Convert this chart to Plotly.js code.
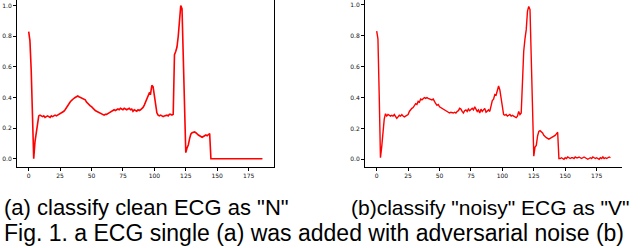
<!DOCTYPE html>
<html>
<head>
<meta charset="utf-8">
<script src="https://cdn.plot.ly/plotly-3.0.1.min.js"></script>
<style>html,body{margin:0;padding:0;background:#fff}#chart{width:640px;height:248px}</style>
</head>
<body>
<div id="chart"></div>
<script>
// Clean ECG beat (a), classified as "N"
const cleanECG = [
0.83,0.77,0.58,0.25,0.00,0.11,0.18,0.24,0.28,0.285,
0.28,0.275,0.28,0.27,0.275,0.28,0.275,0.27,0.28,0.275,
0.28,0.285,0.28,0.285,0.29,0.29,0.295,0.30,0.31,0.32,
0.335,0.345,0.355,0.37,0.38,0.39,0.395,0.40,0.405,0.41,
0.405,0.40,0.395,0.39,0.39,0.385,0.37,0.36,0.35,0.345,
0.34,0.33,0.32,0.315,0.31,0.305,0.30,0.295,0.29,0.29,
0.285,0.29,0.29,0.295,0.30,0.305,0.31,0.315,0.32,0.315,
0.32,0.325,0.32,0.33,0.325,0.32,0.33,0.325,0.32,0.325,
0.33,0.32,0.325,0.31,0.32,0.315,0.31,0.32,0.315,0.32,
0.325,0.335,0.35,0.37,0.385,0.40,0.43,0.425,0.48,0.47,
0.41,0.34,0.30,0.285,0.28,0.285,0.28,0.275,0.28,0.285,
0.285,0.28,0.29,0.29,0.285,0.29,0.68,0.70,0.73,0.80,
0.90,1.00,0.98,0.72,0.42,0.04,0.07,0.09,0.13,0.16,
0.17,0.175,0.175,0.17,0.16,0.155,0.15,0.145,0.14,0.145,
0.15,0.155,0.15,0.16,0.165,0,0,0,0,0,
0,0,0,0,0,0,0,0,0,0,
0,0,0,0,0,0,0,0,0,0,
0,0,0,0,0,0,0,0,0,0,
0,0,0,0,0,0,0
];
// Same beat with adversarial noise (b), classified as "V"
const noisyECG = [
0.83,0.78,0.42,0.01,0.08,0.17,0.26,0.295,0.28,0.29,
0.285,0.28,0.285,0.28,0.29,0.28,0.265,0.275,0.285,0.28,
0.29,0.28,0.275,0.28,0.285,0.29,0.31,0.325,0.33,0.335,
0.35,0.36,0.355,0.375,0.37,0.39,0.385,0.395,0.40,0.395,
0.40,0.395,0.39,0.39,0.385,0.39,0.37,0.36,0.35,0.355,
0.34,0.335,0.33,0.325,0.32,0.31,0.305,0.30,0.30,0.305,
0.30,0.30,0.305,0.30,0.31,0.315,0.33,0.325,0.31,0.30,
0.315,0.32,0.31,0.325,0.315,0.32,0.33,0.32,0.34,0.325,
0.31,0.32,0.30,0.325,0.31,0.32,0.33,0.305,0.31,0.32,
0.31,0.35,0.38,0.39,0.42,0.415,0.45,0.475,0.45,0.40,
0.34,0.29,0.285,0.29,0.28,0.285,0.29,0.28,0.285,0.28,
0.275,0.27,0.28,0.31,0.29,0.30,0.50,0.70,0.78,0.84,
0.96,0.99,0.97,0.60,0.20,0.02,0.08,0.09,0.15,0.18,
0.185,0.18,0.17,0.155,0.145,0.14,0.135,0.13,0.135,0.14,
0.14,0.15,0.155,0.165,0.175,0.005,0.005,0.01,0.005,0.0,
0.01,0.005,0.015,0.01,0.005,0.01,0.01,0.005,0.015,0.01,
0.01,0.015,0.01,0.005,0.01,0.015,0.01,0.005,0.0,0.005,
0.01,0.005,0.015,0.01,0.005,0.01,0.005,0.0,0.01,0.005,
0.015,0.005,0.01,0.005,0.01,0.015,0.01
];
const sampleIndex = cleanECG.map((_, i) => i);
const xTicks = [0, 25, 50, 75, 100, 125, 150, 175];
const yTicks = [0.0, 0.2, 0.4, 0.6, 0.8, 1.0];
const captionA = '(a) classify clean ECG as "N"';
const captionB = '(b)classify "noisy" ECG as "V"';
const figCaption = 'Fig. 1. a ECG single (a) was added with adversarial noise (b)';

const W = 640, H = 248;
const tickFont = {family: 'DejaVu Sans', size: 6, color: '#111'};
function xAxis(l, r, range) {
  return {domain: [l / W, r / W], range: range, tickvals: xTicks, ticktext: xTicks.map(String),
    showgrid: false, zeroline: false, showline: true, linecolor: '#000', linewidth: 1,
    ticks: 'outside', ticklen: 3, tickwidth: 1, tickcolor: '#000', tickfont: tickFont, fixedrange: true};
}
function yAxis(anchor, range, mirror) {
  return {domain: [(H - 167) / H, 1], range: range, anchor: anchor, tickvals: yTicks,
    ticktext: yTicks.map(v => v.toFixed(1)), showgrid: false, zeroline: false, showline: true,
    mirror: mirror, linecolor: '#000', linewidth: 1, ticks: 'outside', ticklen: 3, tickwidth: 1,
    tickcolor: '#000', tickfont: tickFont, fixedrange: true};
}

const traces = [
  {x: sampleIndex, y: cleanECG, type: 'scatter', mode: 'lines', line: {color: '#ff0000', width: 1.6},
   xaxis: 'x', yaxis: 'y', hoverinfo: 'skip'},
  {x: sampleIndex, y: noisyECG, type: 'scatter', mode: 'lines', line: {color: '#ff0000', width: 1.4},
   xaxis: 'x2', yaxis: 'y2', hoverinfo: 'skip'}
];

const capFontA = {family: 'Liberation Sans, Arial, sans-serif', size: 22, color: '#000'};
const capFontB = {family: 'Liberation Sans, Arial, sans-serif', size: 21, color: '#000'};
const figFont = {family: 'Liberation Sans, Arial, sans-serif', size: 23, color: '#000'};
const layout = {
  width: W, height: H, margin: {l: 0, r: 0, t: 0, b: 0}, showlegend: false,
  paper_bgcolor: '#fff', plot_bgcolor: '#fff',
  xaxis: xAxis(17, 274, [-9.3, 195.2]),
  yaxis: yAxis('x', [-0.054, 1.037], true),
  xaxis2: xAxis(365, 622, [-9.3, 195.2]),
  yaxis2: yAxis('x2', [-0.05, 1.032], false),
  annotations: [
    {text: captionA, xref: 'paper', yref: 'paper', x: 2 / W, y: 1 - 207 / H, xanchor: 'left', yanchor: 'middle', showarrow: false, font: capFontA},
    {text: captionB, xref: 'paper', yref: 'paper', x: 349 / W, y: 1 - 207 / H, xanchor: 'left', yanchor: 'middle', showarrow: false, font: capFontB},
    {text: figCaption, xref: 'paper', yref: 'paper', x: 2 / W, y: 1 - 233 / H, xanchor: 'left', yanchor: 'middle', showarrow: false, font: figFont}
  ]
};
Plotly.newPlot('chart', traces, layout, {displayModeBar: false, staticPlot: true});
</script>
</body>
</html>
